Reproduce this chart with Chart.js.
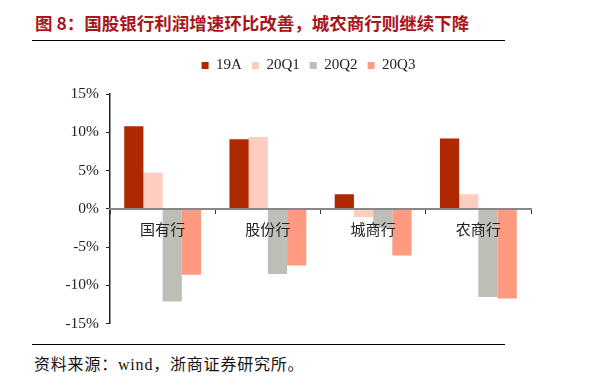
<!DOCTYPE html>
<html>
<head>
<meta charset="utf-8">
<script src="https://cdn.jsdelivr.net/npm/chart.js@4.4.0/dist/chart.umd.min.js"></script>
<style>
  body { margin: 0; background: #fff; width: 589px; height: 389px; position: relative; overflow: hidden; }
  .title { position: absolute; left: 35px; top: 10px; font: bold 17.5px "Noto Sans CJK SC", sans-serif; color: #A8161C; white-space: nowrap; }
  .rule { position: absolute; left: 32px; width: 473px; height: 0; border-top: 1.5px solid #000; }
  .source { position: absolute; left: 34px; top: 351px; font: 16px "Liberation Serif", "Noto Sans CJK SC", serif; color: #111; white-space: nowrap; letter-spacing: 0.8px; }
  #wrap { position: absolute; left: 0; top: 48px; width: 589px; height: 292px; }
</style>
</head>
<body>
<div class="title">图&nbsp;8：国股银行利润增速环比改善，城农商行则继续下降</div>
<div class="rule" style="top:40px"></div>
<div id="wrap"><canvas id="canvas"></canvas></div>
<div class="rule" style="top:344px"></div>
<div class="source">资料来源：wind，浙商证券研究所。</div>
<script>
// categories and series (percent)
const banks = ["国有行", "股份行", "城商行", "农商行"];
const seriesNames = ["19A", "20Q1", "20Q2", "20Q3"];
const v19A = [10.8, 9.1, 1.9, 9.2];
const v20Q1 = [4.7, 9.4, -1.1, 1.9];
const v20Q2 = [-12.1, -8.5, -2.5, -11.5];
const v20Q3 = [-8.6, -7.4, -6.1, -11.7];
const colors = ["#B02800", "#FFCCC0", "#BEBEB6", "#FF9980"];

const serif = "'Liberation Serif', 'Noto Sans CJK SC', serif";
let myChart;

// legend sits a bit lower and right of the default spot
const legendTweak = {
  id: "legendTweak",
  beforeInit(chart) {
    const fit = chart.legend.fit;
    chart.legend.fit = function () {
      fit.bind(chart.legend)();
      this.height += 11;
    };
  },
  afterLayout(chart) {
    chart.legend.left += 86;
  },
};

function buildChart() {
  const values = [v19A, v20Q1, v20Q2, v20Q3];
  const datasets = seriesNames.map((name, i) => {
    return {
      label: name,
      data: values[i],
      backgroundColor: colors[i],
      borderWidth: 0,
      categoryPercentage: 0.73,
      barPercentage: 1.0,
    };
  });

  const config = {
    type: "bar",
    data: { labels: banks, datasets: datasets },
    options: {
      responsive: true,
      maintainAspectRatio: false,
      animation: false,
      layout: { padding: { left: 0, right: 58, top: 0, bottom: 5 } },
      plugins: {
        legend: {
          position: "top",
          labels: {
            boxWidth: 7,
            boxHeight: 7,
            padding: 10,
            color: "#222",
            font: { family: serif, size: 15 },
          },
        },
        tooltip: { enabled: false },
      },
      scales: {
        x: {
          position: { y: 0 },
          grid: { drawOnChartArea: false, drawTicks: true, tickLength: 4, color: "#333", offset: true, z: 1 },
          border: { color: "#888", width: 2, z: 1 },
          ticks: { z: 1, color: "#222", font: { family: serif, size: 15 }, padding: 9 },
        },
        y: {
          min: -15,
          max: 15,
          grid: { drawOnChartArea: false, drawTicks: true, tickLength: 4, color: "#222" },
          border: { color: "#222", width: 1.5 },
          ticks: {
            stepSize: 5,
            padding: 7,
            color: "#222",
            font: { family: serif, size: 15.5 },
            callback: (v) => v + "%",
          },
          afterFit: (scale) => {
            scale.width = 110;
          },
        },
      },
    },
    plugins: [legendTweak],
  };

  myChart = new Chart(document.getElementById("canvas"), config);
}

buildChart();
</script>
</body>
</html>
